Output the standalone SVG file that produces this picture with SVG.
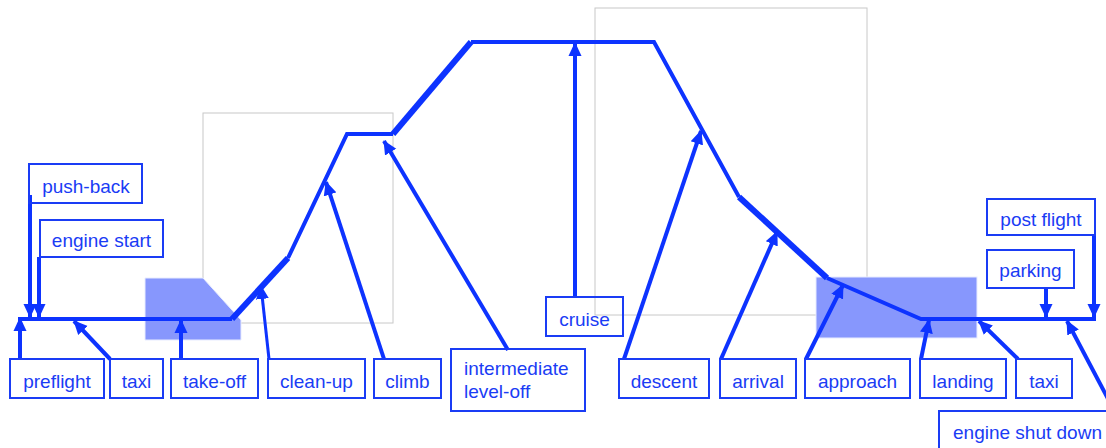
<svg xmlns="http://www.w3.org/2000/svg" width="1106" height="448" viewBox="0 0 1106 448">
<style>
.frame{fill:none;stroke:#c8c8c8;stroke-width:1}
.shade{fill:#8797fd;stroke:#e8ecff;stroke-width:1}
.prof{fill:none;stroke:#0d33ff;stroke-width:4;stroke-linejoin:miter}
.profw{fill:none;stroke:#0d33ff;stroke-width:6}
.arr{fill:none;stroke:#0d33ff;stroke-width:4;marker-end:url(#ah)}
.box{fill:none;stroke:#1a3cf5;stroke-width:2}
.lbl{font-family:"Liberation Sans",Arial,sans-serif;font-size:19px;fill:#1a3cf5;text-anchor:middle}
.lbll{font-family:"Liberation Sans",Arial,sans-serif;font-size:19px;fill:#1a3cf5}
</style>
<defs>
<marker id="ah" viewBox="0 0 14 14" refX="13" refY="7" markerWidth="14" markerHeight="14" markerUnits="userSpaceOnUse" orient="auto">
<path d="M0,0.5 L14,7 L0,13.5 z" fill="#0d33ff"/>
</marker>
</defs>
<rect x="0" y="0" width="1106" height="448" fill="#ffffff"/>
<g id="frames">
<rect class="frame" x="203" y="113" width="190" height="210"/>
<rect class="frame" x="595" y="8" width="272" height="307"/>
</g>
<g id="shading">
<path class="shade" d="M145,278 L203,278 L241,320 L241,340 L145,340 z"/>
<rect class="shade" x="816" y="277" width="161" height="61"/>
</g>
<g id="profile">
<polyline class="prof" points="18,319 232,319"/>
<polyline class="profw" points="232,319 288,258"/>
<polyline class="prof" points="288,258 347,134 393,134"/>
<polyline class="profw" points="393,134 471,42"/>
<polyline class="prof" points="471,42 654,42 739,197"/>
<polyline class="profw" points="739,197 827,278"/>
<polyline class="prof" points="827,278 921,319 1096,319"/>
</g>
<g id="connectors">
<line class="arr" x1="20" y1="359" x2="20" y2="318"/>
<line class="arr" x1="110" y1="359" x2="74" y2="321"/>
<line class="arr" x1="181" y1="359" x2="181" y2="320"/>
<line class="arr" x1="269" y1="359" x2="261" y2="286" style="stroke-width:3"/>
<line class="arr" x1="384" y1="359" x2="326" y2="182"/>
<line class="arr" x1="508" y1="350" x2="384" y2="141"/>
<line class="arr" x1="575" y1="297" x2="575" y2="43"/>
<line class="arr" x1="624" y1="359" x2="701" y2="131"/>
<line class="arr" x1="721" y1="359" x2="777" y2="232"/>
<line class="arr" x1="806" y1="359" x2="843" y2="285"/>
<line class="arr" x1="921" y1="359" x2="929" y2="320"/>
<line class="arr" x1="1018" y1="359" x2="979" y2="321"/>
<line class="arr" x1="1134" y1="448" x2="1067" y2="321"/>
<line class="arr" x1="30" y1="195" x2="30" y2="317"/>
<line class="arr" x1="39" y1="257" x2="39" y2="317"/>
<line class="arr" x1="1046" y1="288" x2="1046" y2="317"/>
<line class="arr" x1="1094" y1="235" x2="1094" y2="317"/>
</g>
<g id="preflight"><rect class="box" x="10" y="359" width="94" height="39"/><text class="lbl" x="57" y="388">preflight</text></g>
<g id="taxi-out"><rect class="box" x="110" y="359" width="53" height="39"/><text class="lbl" x="136.5" y="388">taxi</text></g>
<g id="take-off"><rect class="box" x="171" y="359" width="87" height="39"/><text class="lbl" x="214.5" y="388">take-off</text></g>
<g id="clean-up"><rect class="box" x="268" y="359" width="97" height="39"/><text class="lbl" x="316.5" y="388">clean-up</text></g>
<g id="climb"><rect class="box" x="374" y="359" width="67" height="39"/><text class="lbl" x="407.5" y="388">climb</text></g>
<g id="intermediate"><rect class="box" x="451" y="349" width="134" height="62"/><text class="lbll" x="464" y="375">intermediate</text><text class="lbll" x="464" y="398">level-off</text></g>
<g id="cruise"><rect class="box" x="546" y="297" width="77" height="39"/><text class="lbl" x="584.5" y="326">cruise</text></g>
<g id="descent"><rect class="box" x="619" y="359" width="90" height="39"/><text class="lbl" x="664" y="388">descent</text></g>
<g id="arrival"><rect class="box" x="720" y="359" width="76" height="39"/><text class="lbl" x="758" y="388">arrival</text></g>
<g id="approach"><rect class="box" x="805" y="359" width="105" height="39"/><text class="lbl" x="857.5" y="388">approach</text></g>
<g id="landing"><rect class="box" x="920" y="359" width="86" height="39"/><text class="lbl" x="963" y="388">landing</text></g>
<g id="taxi-in"><rect class="box" x="1016" y="359" width="56" height="39"/><text class="lbl" x="1044" y="388">taxi</text></g>
<g id="engine-shut-down"><rect class="box" x="939" y="411" width="190" height="60"/><text class="lbll" x="953" y="439">engine shut down</text></g>
<g id="push-back"><rect class="box" x="29" y="164" width="113" height="39"/><text class="lbl" x="86" y="193">push-back</text></g>
<g id="engine-start"><rect class="box" x="40" y="220" width="123" height="37"/><text class="lbl" x="101.5" y="247">engine start</text></g>
<g id="post-flight"><rect class="box" x="987" y="199" width="108" height="36"/><text class="lbl" x="1041" y="226">post flight</text></g>
<g id="parking"><rect class="box" x="987" y="250" width="87" height="38"/><text class="lbl" x="1030.5" y="277">parking</text></g>
</svg>
